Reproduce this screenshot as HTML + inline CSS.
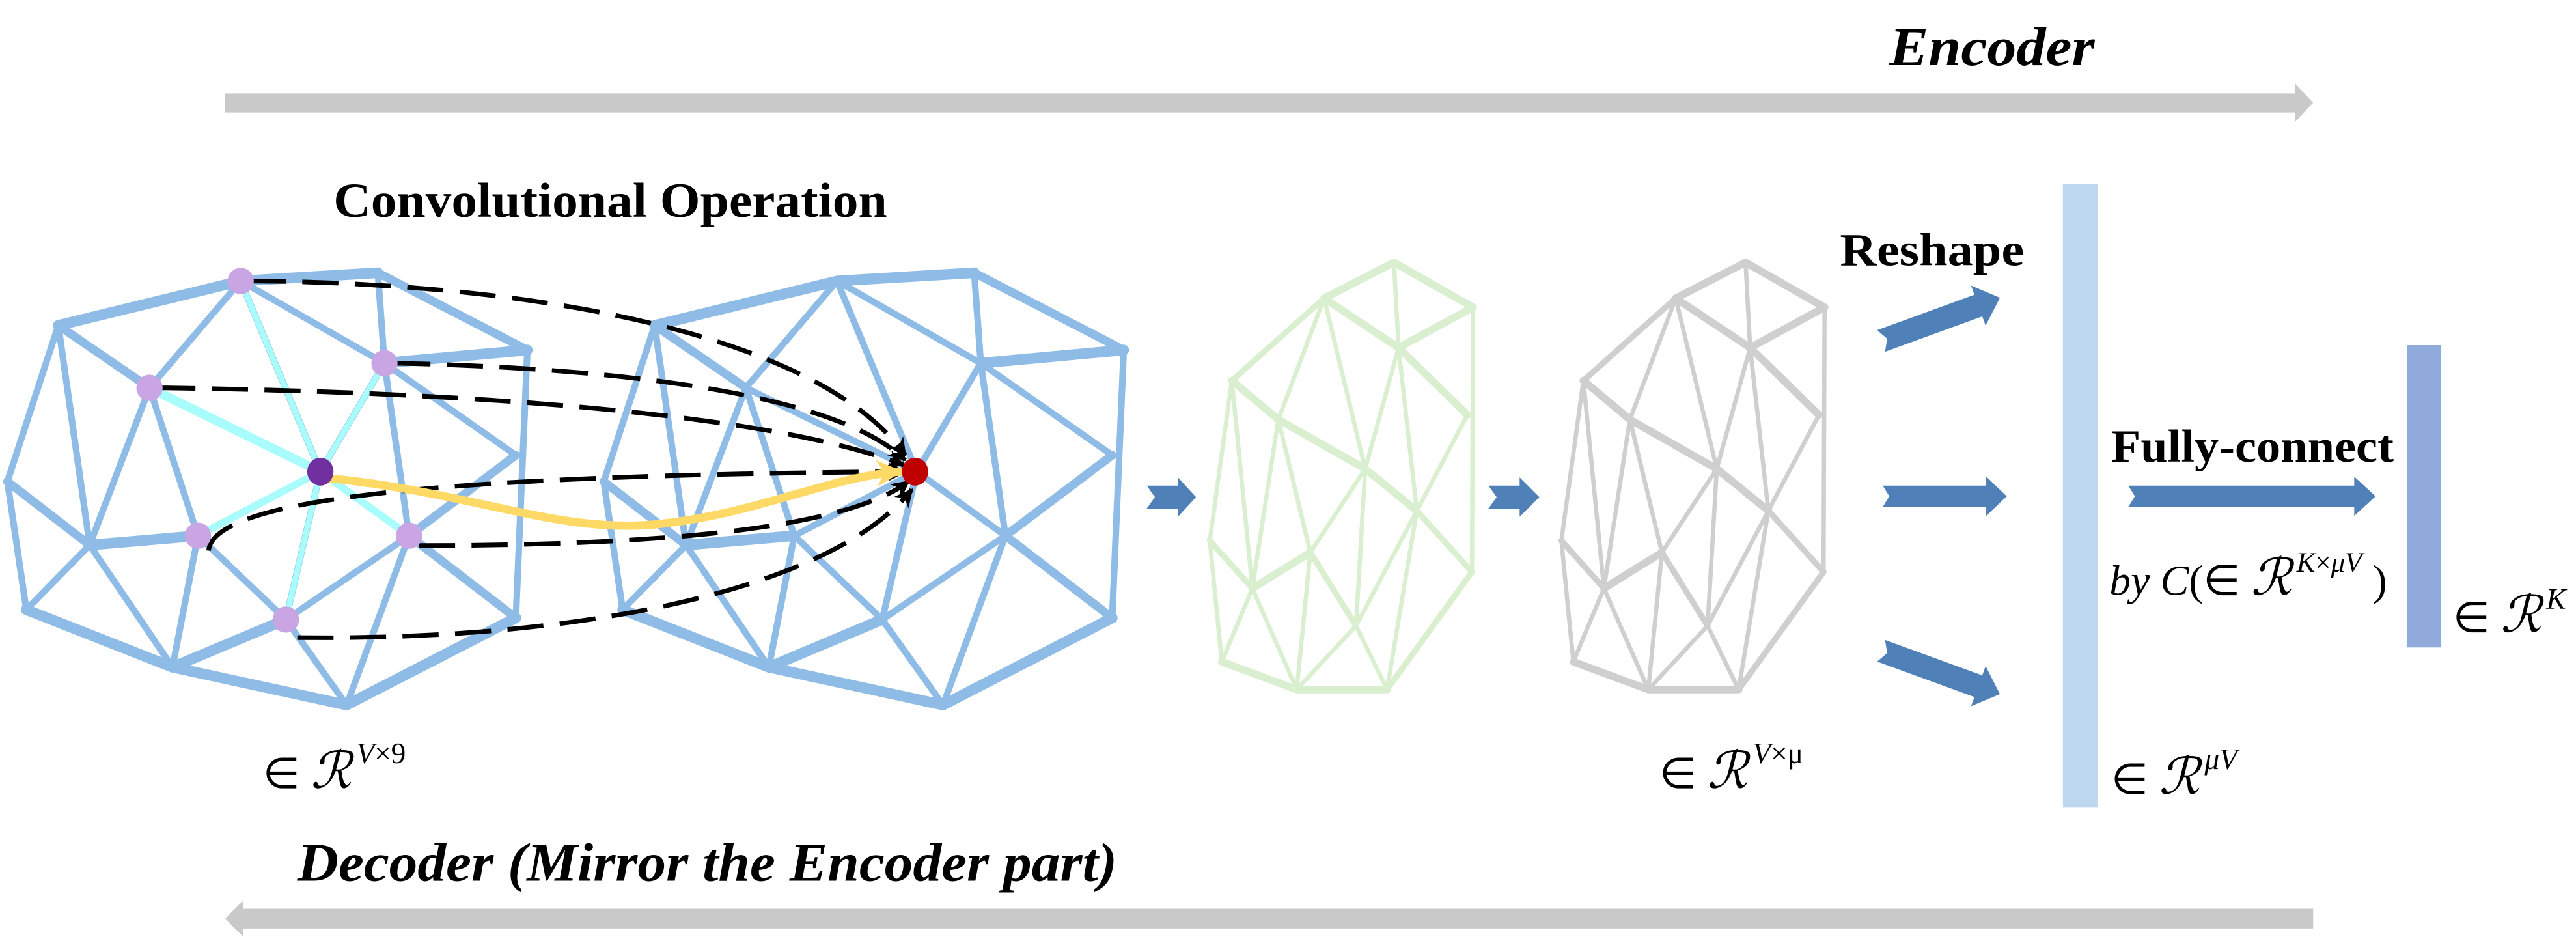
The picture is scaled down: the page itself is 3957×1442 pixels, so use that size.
<!DOCTYPE html>
<html><head><meta charset="utf-8"><style>
html,body{margin:0;padding:0;background:#fff;width:3957px;height:1442px;overflow:hidden}
svg{display:block}
.t{font-family:"Liberation Serif",serif;fill:#000}
</style></head><body>
<svg width="3957" height="1442" viewBox="0 0 1568 571.4" xmlns="http://www.w3.org/2000/svg">
<defs>
<g id="mesh" stroke="#8fbce6" stroke-linecap="round" fill="none">
 <g stroke-width="4">
  <line x1="146.5" y1="171" x2="234" y2="221"/>
  <line x1="230" y1="166" x2="234" y2="221"/>
  <line x1="321" y1="213" x2="314" y2="376"/>
  <line x1="146.5" y1="171" x2="91" y2="236"/>
  <line x1="35.5" y1="198" x2="4.5" y2="293"/>
  <line x1="35.5" y1="198" x2="54.6" y2="331.7"/>
  <line x1="91" y1="236" x2="54.6" y2="331.7"/>
  <line x1="91" y1="236" x2="120.5" y2="326"/>
  <line x1="146.5" y1="171" x2="195" y2="287"/>
  <line x1="91" y1="236" x2="195" y2="287"/>
  <line x1="234" y1="221" x2="195" y2="287"/>
  <line x1="195" y1="287" x2="120.5" y2="326"/>
  <line x1="195" y1="287" x2="249" y2="326"/>
  <line x1="195" y1="287" x2="174" y2="377"/>
  <line x1="234" y1="221" x2="249" y2="326"/>
  <line x1="234" y1="221" x2="314" y2="277"/>
  <line x1="4.5" y1="293" x2="16" y2="371"/>
  <line x1="54.6" y1="331.7" x2="16" y2="371"/>
  <line x1="54.6" y1="331.7" x2="105" y2="406"/>
  <line x1="120.5" y1="326" x2="105" y2="406"/>
  <line x1="120.5" y1="326" x2="174" y2="377"/>
  <line x1="249" y1="326" x2="174" y2="377"/>
  <line x1="249" y1="326" x2="211" y2="429"/>
  <line x1="174" y1="377" x2="211" y2="429"/>
 </g>
 <g stroke-width="5.2">
  <line x1="35.5" y1="198" x2="91" y2="236"/>
  <line x1="4.5" y1="293" x2="54.6" y2="331.7"/>
  <line x1="249" y1="326" x2="314" y2="376"/>
  <line x1="314" y1="277" x2="249" y2="326"/>
  <line x1="230" y1="166" x2="321" y2="213"/>
 </g>
 <g stroke-width="6.5">
  <line x1="35.5" y1="198" x2="146.5" y2="171"/>
  <line x1="146.5" y1="171" x2="230" y2="166"/>
  <line x1="234" y1="221" x2="321" y2="213"/>
  <line x1="54.6" y1="331.7" x2="120.5" y2="326"/>
  <line x1="16" y1="371" x2="105" y2="406"/>
  <line x1="105" y1="406" x2="174" y2="377"/>
  <line x1="105" y1="406" x2="211" y2="429"/>
  <line x1="211" y1="429" x2="314" y2="376"/>
 </g>
</g>
<g id="pm" stroke-linecap="round" fill="none">
 <g stroke-width="2.6">
  <line x1="848.5" y1="159.7" x2="851.3" y2="211.6"/>
  <line x1="896.6" y1="187" x2="896" y2="348"/>
  <line x1="806" y1="181.5" x2="778.1" y2="255.3"/>
  <line x1="806" y1="181.5" x2="831" y2="285.3"/>
  <line x1="851.3" y1="211.6" x2="831" y2="285.3"/>
  <line x1="851.3" y1="211.6" x2="862.4" y2="310.8"/>
  <line x1="893.2" y1="252.5" x2="862.4" y2="310.8"/>
  <line x1="749.8" y1="231.6" x2="736.4" y2="329"/>
  <line x1="749.8" y1="231.6" x2="762.3" y2="358"/>
  <line x1="778.1" y1="255.3" x2="762.3" y2="358"/>
  <line x1="778.1" y1="255.3" x2="797.6" y2="336.2"/>
  <line x1="831" y1="285.3" x2="797.6" y2="336.2"/>
  <line x1="831" y1="285.3" x2="825.4" y2="380.8"/>
  <line x1="862.4" y1="310.8" x2="825.4" y2="380.8"/>
  <line x1="862.4" y1="310.8" x2="844.3" y2="419.6"/>
  <line x1="736.4" y1="329" x2="743.7" y2="402.7"/>
  <line x1="762.3" y1="358" x2="743.7" y2="402.7"/>
  <line x1="762.3" y1="358" x2="789.3" y2="419.6"/>
  <line x1="797.6" y1="336.2" x2="789.3" y2="419.6"/>
  <line x1="825.4" y1="380.8" x2="789.3" y2="419.6"/>
  <line x1="825.4" y1="380.8" x2="844.3" y2="419.6"/>
 </g>
 <g stroke-width="3.6">
  <line x1="806" y1="181.5" x2="749.8" y2="231.6"/>
  <line x1="736.4" y1="329" x2="762.3" y2="358"/>
  <line x1="797.6" y1="336.2" x2="825.4" y2="380.8"/>
  <line x1="862.4" y1="310.8" x2="896" y2="348"/>
  <line x1="896" y1="348" x2="844.3" y2="419.6"/>
 </g>
 <g stroke-width="4.6">
  <line x1="848.5" y1="159.7" x2="806" y2="181.5"/>
  <line x1="848.5" y1="159.7" x2="896.6" y2="187"/>
  <line x1="806" y1="181.5" x2="851.3" y2="211.6"/>
  <line x1="851.3" y1="211.6" x2="896.6" y2="187"/>
  <line x1="851.3" y1="211.6" x2="893.2" y2="252.5"/>
  <line x1="749.8" y1="231.6" x2="778.1" y2="255.3"/>
  <line x1="778.1" y1="255.3" x2="831" y2="285.3"/>
  <line x1="831" y1="285.3" x2="862.4" y2="310.8"/>
  <line x1="762.3" y1="358" x2="797.6" y2="336.2"/>
  <line x1="743.7" y1="402.7" x2="789.3" y2="419.6"/>
  <line x1="789.3" y1="419.6" x2="844.3" y2="419.6"/>
 </g>
</g>
<marker id="ah" viewBox="0 0 10 10" refX="9" refY="5" markerWidth="4" markerHeight="4" orient="auto" markerUnits="strokeWidth"><path d="M0,0 L10,5 L0,10 L3,5 z" fill="#000"/></marker>
<marker id="ay" viewBox="0 0 10 10" refX="9" refY="5" markerWidth="3.2" markerHeight="3.2" orient="auto" markerUnits="strokeWidth"><path d="M0,0 L10,5 L0,10 L3,5 z" fill="#ffd966"/></marker>
</defs>

<polygon points="137,56.8 1397,56.8 1397,50.8 1408,62.5 1397,74.2 1397,68.4 137,68.4" fill="#c9c9c9"/>
<text class="t" x="1150" y="39.6" font-size="33" font-weight="bold" font-style="italic" textLength="125" lengthAdjust="spacingAndGlyphs">Encoder</text>
<polygon points="1408,553 148,553 148,548 137,559 148,570 148,565 1408,565" fill="#c9c9c9"/>
<text class="t" x="181" y="536" font-size="33" font-weight="bold" font-style="italic" textLength="499" lengthAdjust="spacingAndGlyphs">Decoder (Mirror the Encoder part)</text>

<text class="t" x="203" y="132" font-size="30" font-weight="bold" textLength="337" lengthAdjust="spacingAndGlyphs">Convolutional Operation</text>

<use href="#mesh"/>
<use href="#mesh" transform="translate(363,0)"/>
<g stroke="#a8fcfc" stroke-linecap="round">
  <line x1="146.5" y1="171" x2="195" y2="287" stroke-width="3.5"/>
  <line x1="91" y1="236" x2="195" y2="287" stroke-width="5.5"/>
  <line x1="234" y1="221" x2="195" y2="287" stroke-width="3.5"/>
  <line x1="195" y1="287" x2="120.5" y2="326" stroke-width="4.5"/>
  <line x1="195" y1="287" x2="249" y2="326" stroke-width="4.5"/>
  <line x1="195" y1="287" x2="174" y2="377" stroke-width="3.5"/>
</g>

<g fill="none" stroke="#000" stroke-width="2.8" stroke-dasharray="22,10" marker-end="url(#ah)">
  <path d="M152,171 C330,172 500,205 551,277"/>
  <path d="M240,221 C380,224 510,240 551,280"/>
  <path d="M97,236 C250,238 460,248 550,283"/>
  <path d="M127,335 C130,300 300,289 551,287"/>
  <path d="M255,332 C400,332 515,322 553,293"/>
  <path d="M181,388 C350,390 505,360 555,298"/>
</g>
<path d="M200,291 C290,300 340,325 400,319 C460,313 505,290 548,287" fill="none" stroke="#ffd966" stroke-width="5" stroke-linecap="round" marker-end="url(#ay)"/>

<g fill="#c9a6e3">
  <ellipse cx="146.5" cy="171" rx="8" ry="8"/>
  <ellipse cx="234" cy="221" rx="8" ry="8"/>
  <ellipse cx="91" cy="236" rx="8" ry="8"/>
  <ellipse cx="120.5" cy="326" rx="8" ry="8"/>
  <ellipse cx="249" cy="326" rx="8" ry="8"/>
  <ellipse cx="174" cy="377" rx="8" ry="8"/>
</g>
<ellipse cx="195" cy="287" rx="8" ry="8.5" fill="#7030a0"/>
<ellipse cx="557" cy="287" rx="8" ry="8.5" fill="#c00000"/>

<g fill="#4f81b8">
  <polygon points="698,295.5 717,295.5 717,290.5 728,302.5 717,314.5 717,309.5 698,309.5 703,302.5"/>
  <polygon points="906,295.5 925,295.5 925,290.5 937,302.5 925,314.5 925,309.5 906,309.5 911,302.5"/>
</g>

<use href="#pm" stroke="#d9efcf"/>
<use href="#pm" stroke="#cfcfcf" transform="translate(214,0)"/>

<g fill="#4f81b8">
  <polygon points="1146,295.5 1209,295.5 1209,290 1221.5,302 1209,314 1209,308.5 1146,308.5 1150,302"/>
  <polygon points="0,-7 63,-7 63,-13 77,0 63,13 63,7 0,7 4,0" transform="translate(1145,207.5) rotate(-20)"/>
  <polygon points="0,-7 63,-7 63,-13 77,0 63,13 63,7 0,7 4,0" transform="translate(1145,396) rotate(20)"/>
  <polygon points="1295.5,295.5 1433,295.5 1433,290 1446,302 1433,314 1433,308.5 1295.5,308.5 1299.5,302"/>
</g>
<text class="t" x="1120" y="161.5" font-size="28" font-weight="bold" textLength="112" lengthAdjust="spacingAndGlyphs">Reshape</text>
<text class="t" x="1285" y="281" font-size="28" font-weight="bold" textLength="172" lengthAdjust="spacingAndGlyphs">Fully-connect</text>

<rect x="1255.7" y="112" width="21" height="379.5" fill="#bdd7ee"/>
<rect x="1465" y="210" width="21" height="184" fill="#90abdb"/>

<g class="t" font-style="italic">
 <text x="160" y="479.5" font-size="26"><tspan font-style="normal">∈</tspan> <tspan font-size="31">ℛ</tspan><tspan dx="3" dy="-15" font-size="18">V</tspan><tspan font-style="normal" font-size="18">×9</tspan></text>
 <text x="1010" y="479.5" font-size="26"><tspan font-style="normal">∈</tspan> <tspan font-size="31">ℛ</tspan><tspan dx="3" dy="-15" font-size="18">V</tspan><tspan font-style="normal" font-size="18">×μ</tspan></text>
 <text x="1285" y="483" font-size="26"><tspan font-style="normal">∈</tspan> <tspan font-size="31">ℛ</tspan><tspan dx="3" dy="-15" font-size="18">μV</tspan></text>
 <text x="1284" y="362" font-size="26">by C<tspan font-style="normal">(∈ </tspan><tspan font-size="31">ℛ</tspan><tspan dx="3" dy="-14" font-size="17">K</tspan><tspan font-style="normal" font-size="17">×</tspan><tspan font-size="17">μV</tspan><tspan dy="14" font-style="normal"> )</tspan></text>
 <text x="1493" y="384.5" font-size="26"><tspan font-style="normal">∈</tspan> <tspan font-size="31">ℛ</tspan><tspan dx="3" dy="-14" font-size="18">K</tspan></text>
</g>
</svg>
</body></html>
